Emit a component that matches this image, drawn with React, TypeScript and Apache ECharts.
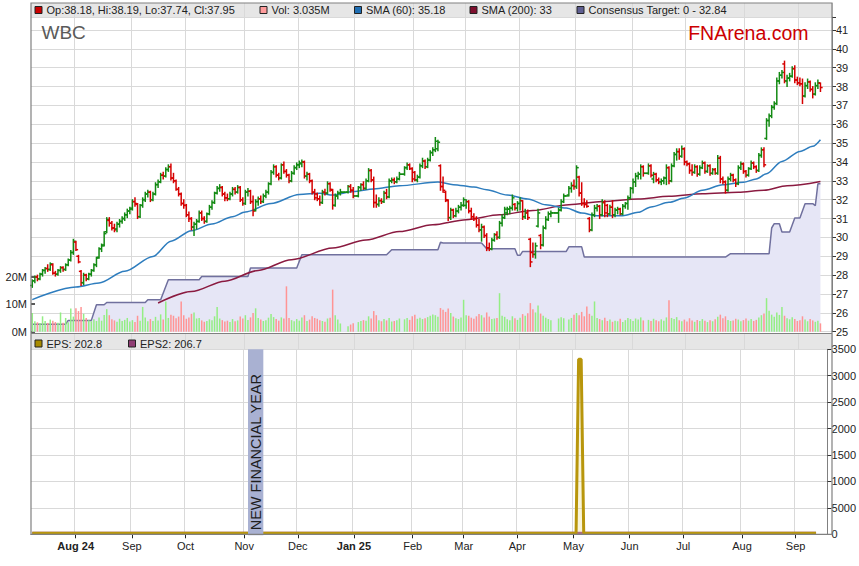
import React, { useEffect, useRef } from "react";
import * as echarts from "echarts";

// ---------- data ----------
const FIRST_DAY = "2024-07-09";
const SLOT_COUNT = 312; // weekdays shown on the axis (last 4 are empty)

const monthTickLabels = ["Aug 24", "Sep", "Oct", "Nov", "Dec", "Jan 25", "Feb", "Mar", "Apr", "May", "Jun", "Jul", "Aug", "Sep"];
const boldTickLabels = ["Aug 24", "Jan 25"];

// daily [open, high, low, close]
const ohlc: number[][] = [
  [27.45,27.75,27.35,27.70],[27.70,27.95,27.60,27.90],[27.90,28.00,27.70,27.80],[27.80,28.10,27.75,28.05],[28.05,28.30,27.95,28.25],[28.25,28.40,28.10,28.35],[28.35,28.55,28.20,28.30],[28.30,28.65,28.25,28.60],[28.55,28.60,28.05,28.10],[28.10,28.20,27.95,28.05],
  [28.05,28.30,28.00,28.25],[28.25,28.45,28.15,28.40],[28.40,28.45,28.20,28.30],[28.30,28.60,28.25,28.55],[28.55,28.85,28.50,28.80],[28.80,29.30,28.75,29.20],[29.20,29.90,29.10,29.80],[29.75,29.80,29.30,29.35],[29.00,29.05,28.65,28.70],[28.20,28.25,27.45,27.60],
  [27.60,28.10,27.50,28.00],[28.00,28.05,27.70,27.80],[27.80,28.10,27.75,28.05],[28.05,28.30,27.95,28.25],[28.25,28.60,28.20,28.55],[28.55,28.95,28.45,28.90],[28.95,29.45,28.90,29.40],[29.40,29.65,29.25,29.55],[29.60,30.30,29.55,30.20],[30.30,31.05,30.25,30.95],
  [30.90,31.05,30.60,30.75],[30.75,30.85,30.40,30.50],[30.50,30.70,30.30,30.40],[30.45,30.80,30.30,30.70],[30.70,30.95,30.55,30.85],[30.85,31.10,30.75,31.00],[31.00,31.30,30.90,31.20],[31.20,31.50,31.05,31.40],[31.40,31.60,31.25,31.50],[31.55,32.00,31.45,31.90],
  [31.90,32.10,31.65,31.80],[31.75,31.80,31.00,31.10],[31.10,31.75,31.05,31.70],[31.70,32.10,31.60,32.00],[32.00,32.40,31.90,32.30],[32.30,32.50,32.15,32.40],[32.40,32.45,31.90,32.00],[32.00,32.40,31.95,32.30],[32.30,32.90,32.25,32.80],[32.80,33.05,32.65,32.95],
  [32.95,33.40,32.90,33.30],[33.30,33.45,33.10,33.25],[33.25,33.70,33.20,33.60],[33.60,33.85,33.50,33.75],[33.75,33.90,33.05,33.15],[33.15,33.40,32.90,33.00],[33.00,33.05,32.50,32.55],[32.55,32.65,32.20,32.30],[32.30,32.35,31.70,31.80],[31.80,32.00,31.55,31.70],
  [31.70,31.75,31.10,31.20],[31.20,31.35,30.85,31.00],[31.00,31.05,30.40,30.55],[30.55,30.80,30.10,30.70],[30.70,30.95,30.45,30.85],[30.85,31.40,30.80,31.30],[31.30,31.40,30.90,31.00],[31.00,31.10,30.75,30.85],[30.85,31.30,30.80,31.25],[31.25,31.70,31.20,31.60],
  [31.60,31.95,31.50,31.85],[31.85,32.40,31.80,32.35],[32.35,32.70,32.30,32.60],[32.60,32.80,32.45,32.65],[32.65,32.70,32.20,32.30],[32.30,32.40,31.95,32.10],[32.10,32.30,31.95,32.05],[32.05,32.40,32.00,32.30],[32.30,32.65,32.20,32.55],[32.55,32.65,32.30,32.40],
  [32.40,32.75,32.35,32.65],[32.65,32.70,31.90,32.00],[32.00,32.10,31.70,31.80],[31.80,32.50,31.75,32.40],[32.40,32.60,32.20,32.45],[32.45,32.50,31.80,31.90],[31.90,32.20,31.15,31.40],[31.45,32.00,31.40,31.90],[31.90,32.15,31.70,32.05],[32.05,32.20,31.80,31.90],
  [31.90,32.30,31.85,32.20],[32.20,32.50,32.10,32.40],[32.40,32.90,32.30,32.85],[32.85,33.55,32.80,33.45],[33.45,33.85,33.35,33.75],[33.75,33.80,33.20,33.30],[33.30,33.40,33.05,33.15],[33.15,33.90,33.10,33.85],[33.85,34.00,33.40,33.50],[33.50,33.60,33.20,33.30],
  [33.30,33.35,32.90,33.00],[33.00,33.50,32.95,33.40],[33.40,33.80,33.35,33.70],[33.70,33.95,33.60,33.85],[33.85,34.05,33.70,33.95],[33.90,34.10,33.75,34.00],[34.00,34.05,33.15,33.25],[33.25,33.45,33.05,33.35],[33.35,33.40,32.90,33.00],[33.00,33.05,32.30,32.40],
  [32.40,32.55,32.00,32.10],[32.30,32.35,31.95,32.05],[32.05,32.20,31.70,31.85],[31.85,32.50,31.80,32.40],[32.40,32.55,32.25,32.35],[32.35,32.95,32.30,32.85],[32.85,32.90,32.45,32.55],[32.50,32.55,31.50,31.70],[31.70,32.30,31.65,32.20],[32.20,32.45,32.05,32.35],
  [32.35,32.55,32.25,32.40],[32.40,32.40,32.40,32.40],[32.40,32.40,32.40,32.40],[32.40,32.75,32.35,32.70],[32.70,32.80,32.40,32.50],[32.50,32.65,32.10,32.20],[32.20,32.20,32.20,32.20],[32.20,32.70,32.15,32.65],[32.65,32.85,32.50,32.80],[32.80,32.95,32.55,32.60],
  [32.60,33.10,32.55,33.00],[33.00,33.65,32.95,33.55],[33.55,33.60,32.95,33.05],[33.05,33.20,31.60,31.85],[31.85,32.25,31.60,31.75],[31.75,32.10,31.65,31.95],[31.95,32.05,31.80,31.90],[31.90,32.45,31.85,32.35],[32.35,32.55,32.05,32.15],[32.15,33.10,32.10,33.00],
  [33.00,33.15,32.90,33.05],[33.05,33.15,32.85,32.95],[32.95,33.20,32.90,33.10],[33.10,33.45,33.05,33.35],[33.35,33.35,33.35,33.35],[33.35,33.75,33.30,33.70],[33.70,33.95,33.60,33.85],[33.85,33.90,33.60,33.65],[33.65,33.70,32.95,33.10],[33.45,33.50,33.00,33.05],
  [33.05,33.30,32.95,33.20],[33.20,33.90,33.15,33.80],[33.80,34.20,33.70,34.05],[34.05,34.10,33.65,33.75],[33.75,34.20,33.70,34.10],[34.10,34.60,34.05,34.50],[34.50,34.75,34.35,34.65],[34.65,35.30,34.55,35.10],[34.70,35.15,34.60,35.05],[33.80,33.85,32.50,32.70],
  [32.70,33.20,32.40,32.50],[32.40,32.45,31.90,32.00],[31.95,32.00,30.90,31.05],[31.05,31.55,30.95,31.45],[31.45,31.50,31.05,31.15],[31.15,31.55,31.10,31.40],[31.40,31.70,31.30,31.60],[31.60,31.85,31.45,31.70],[31.70,32.10,31.65,32.00],[31.70,32.00,31.55,31.90],
  [31.90,31.95,31.30,31.40],[31.40,31.55,30.95,31.10],[31.10,31.25,30.90,31.00],[31.00,31.10,30.55,30.65],[30.65,30.95,30.30,30.40],[30.40,30.70,29.80,30.55],[30.55,30.60,30.00,30.10],[30.10,30.20,29.30,29.45],[29.45,29.70,29.30,29.40],[29.40,29.95,29.35,29.85],
  [29.85,30.20,29.80,30.15],[30.15,30.30,29.90,30.00],[30.00,30.85,29.95,30.75],[30.75,31.20,30.60,31.05],[31.05,31.60,31.00,31.50],[31.30,31.60,31.20,31.50],[31.50,31.65,31.25,31.55],[31.55,32.25,31.45,32.10],[31.75,31.80,31.45,31.55],[31.55,31.90,31.40,31.80],
  [31.80,32.10,31.45,31.95],[31.95,31.95,30.95,31.10],[31.10,31.50,31.00,31.30],[31.30,31.45,30.95,31.05],[29.90,29.95,28.45,28.70],[29.20,29.70,28.95,29.10],[29.10,29.70,28.90,29.55],[30.60,31.50,30.55,31.30],[30.10,30.15,29.40,29.60],[29.60,30.60,29.55,30.50],
  [30.50,31.10,30.45,30.95],[30.95,31.35,30.90,31.25],[31.25,31.40,31.10,31.30],[31.30,31.30,31.30,31.30],[31.30,31.30,31.30,31.30],[31.30,31.55,30.80,31.45],[31.45,32.00,31.40,31.90],[31.90,32.30,31.85,32.20],[32.20,32.20,32.20,32.20],[32.25,32.70,32.20,32.60],
  [32.60,32.90,32.40,32.75],[32.75,33.05,32.55,32.70],[32.70,33.80,32.60,33.70],[33.20,33.25,32.20,32.35],[32.35,32.90,31.70,31.80],[31.80,32.05,31.60,31.75],[31.75,31.95,31.60,31.65],[31.00,31.05,30.30,30.40],[30.40,31.30,30.35,31.20],[31.20,31.70,31.10,31.55],
  [31.55,31.75,31.40,31.65],[31.65,31.70,31.00,31.20],[31.20,32.00,31.15,31.85],[31.85,31.95,31.10,31.30],[31.70,31.75,31.10,31.25],[31.25,31.70,31.20,31.60],[31.60,31.95,31.05,31.20],[31.20,31.55,31.10,31.45],[31.45,31.60,31.25,31.50],[31.50,31.55,31.20,31.25],
  [31.25,31.75,31.20,31.65],[31.65,31.85,31.55,31.80],[31.80,32.20,31.50,32.10],[32.10,32.65,32.05,32.60],[32.60,33.10,32.35,32.95],[32.95,33.40,32.70,33.25],[33.25,33.45,33.10,33.35],[33.35,33.85,33.10,33.75],[33.75,33.80,33.25,33.40],[33.40,33.40,33.40,33.40],
  [33.40,33.90,33.35,33.80],[33.80,33.85,33.20,33.30],[33.10,33.45,32.90,33.35],[33.35,33.40,32.95,33.05],[33.05,33.15,32.85,32.95],[32.95,33.10,32.80,33.00],[33.00,33.20,32.85,33.15],[33.15,33.85,32.80,33.70],[33.70,33.75,32.85,33.00],[33.00,33.90,32.95,33.80],
  [33.80,34.50,33.75,34.40],[34.40,34.70,34.10,34.55],[34.55,34.70,34.15,34.30],[34.30,34.85,34.25,34.70],[34.70,34.75,33.85,34.00],[34.00,34.05,33.80,33.90],[33.90,33.95,33.40,33.55],[33.55,33.85,33.30,33.45],[33.45,33.85,33.40,33.75],[33.75,33.80,33.25,33.35],
  [33.35,33.80,33.30,33.70],[33.70,34.05,33.65,33.95],[33.95,34.00,33.40,33.50],[33.50,33.85,33.45,33.80],[33.80,33.85,33.30,33.40],[33.40,33.65,33.35,33.60],[33.60,33.65,33.35,33.40],[33.40,34.35,33.35,34.20],[34.20,34.30,32.90,33.10],[33.10,33.20,32.85,32.95],
  [32.95,33.00,32.35,32.50],[32.50,33.20,32.45,33.10],[33.10,33.40,33.00,33.30],[33.30,33.35,32.95,33.05],[33.05,33.10,32.70,32.85],[32.85,33.80,32.80,33.70],[33.70,34.00,33.60,33.90],[33.90,33.95,33.40,33.50],[33.50,33.55,33.20,33.30],[33.30,33.70,33.25,33.65],
  [33.65,34.05,33.60,33.95],[33.95,34.00,33.65,33.75],[33.75,33.80,33.45,33.55],[33.55,34.45,33.50,34.35],[34.35,34.75,34.25,34.65],[34.65,34.75,33.75,33.85],[35.25,36.30,35.20,36.20],[36.20,36.55,35.90,36.45],[36.45,37.00,36.35,36.90],[36.90,37.20,36.80,37.10],
  [37.10,38.45,37.05,38.30],[38.30,38.75,38.15,38.60],[38.60,38.85,38.45,38.75],[39.20,39.35,38.20,38.30],[38.30,38.60,38.00,38.45],[38.45,38.70,38.30,38.55],[38.55,39.05,38.50,38.95],[38.95,39.10,38.20,38.35],[38.35,38.50,38.10,38.20],[38.20,38.45,38.05,38.15],
  [38.15,38.40,37.10,37.50],[37.50,38.20,37.45,38.05],[38.05,38.40,37.90,38.25],[38.25,38.30,37.75,37.85],[37.85,38.00,37.40,37.60],[37.60,38.20,37.55,38.05],[38.05,38.35,37.90,38.20],[38.18,38.19,37.74,37.95],
];

// daily volume, millions
const volumeM: number[] = [
  6.8,3.8,3.4,3.2,5.6,3.9,3.2,4.4,4.0,3.5, 3.3,7.0,3.3,5.0,3.4,8.4,5.5,8.5,7.5,9.0,
  6.5,5.0,4.2,3.8,4.5,3.9,5.2,4.0,6.1,8.2, 6.0,4.5,4.1,3.6,4.7,3.9,4.3,5.0,3.7,4.2,
  3.5,5.8,4.0,9.0,5.2,3.8,4.6,3.9,5.4,4.1, 6.3,4.4,11.0,5.0,6.2,5.8,4.9,5.5,11.0,6.0,
  4.7,5.2,6.5,7.0,4.8,5.0,4.1,3.6,3.9,4.5, 4.2,5.6,9.0,4.8,4.2,3.7,4.0,3.5,4.6,3.8,
  4.1,5.5,4.8,6.0,4.3,5.2,6.8,8.5,5.0,4.4, 3.9,4.2,5.1,6.4,5.3,4.6,4.0,5.2,4.8,16.5,
  5.0,4.2,3.8,4.6,4.0,5.2,6.0,3.9,4.4,5.6, 5.0,4.7,4.2,3.9,3.6,4.8,5.1,15.3,6.0,4.4,
  3.0,0,0,2.0,2.6,3.1,0,3.5,3.9,4.2, 4.0,5.6,4.8,7.5,6.0,4.2,3.8,4.6,4.1,5.0,
  3.7,3.9,4.2,4.8,0,4.5,5.0,4.3,5.6,6.2, 4.7,5.1,4.6,4.9,5.3,5.8,6.3,6.0,5.4,8.6,
  8.0,7.2,8.4,6.8,5.5,4.9,4.6,5.2,11.6,6.0, 5.8,5.1,4.7,5.6,6.4,6.0,5.2,7.0,5.5,4.6,
  4.8,5.0,14.0,5.8,5.4,4.5,4.2,5.6,4.9,4.3, 5.1,6.4,5.8,6.7,10.4,8.2,7.0,9.5,6.6,5.8,
  5.1,4.6,4.2,0,0,4.8,5.3,4.9,0,4.4, 5.0,6.2,6.8,6.0,7.2,5.6,9.2,6.5,5.8,11.0,
  5.0,4.6,4.2,5.1,3.9,4.4,3.6,4.0,3.8,4.7, 3.5,4.2,5.0,4.6,3.9,4.8,4.4,5.2,4.1,0,
  4.3,3.9,4.7,4.2,3.8,4.5,4.0,5.2,11.4,5.0, 4.6,5.3,4.2,3.8,4.4,3.7,4.9,4.1,3.6,4.3,
  3.9,4.6,4.0,3.5,4.2,3.8,4.5,5.4,6.2,4.9, 5.6,4.3,3.9,4.1,4.7,4.4,3.8,4.2,4.8,4.0,
  4.6,3.9,4.3,5.2,6.0,6.6,12.2,7.6,6.2,5.4, 7.0,6.1,9.0,5.8,4.9,4.5,5.3,4.6,3.9,4.2,
  5.6,4.4,3.8,4.6,4.1,3.6,4.0,3.035,
];

// [day index, value] points
const sma60: number[][] = [
  [0,26.70],[17,27.37],[26,27.58],[36,28.20],[47,28.99],[54,29.80],[62,30.36],[70,30.71],[78,31.10],[83,31.35],
  [93,31.80],[104,32.28],[112,32.34],[117,32.25],[125,32.44],[133,32.57],[143,32.74],[158,32.94],[164,32.80],[172,32.67],
  [177,32.53],[185,32.25],[193,32.04],[200,31.73],[208,31.56],[214,31.29],[220,31.15],[230,31.15],[236,31.33],[241,31.62],
  [248,31.86],[254,32.09],[261,32.50],[269,32.79],[277,32.92],[282,33.10],[286,33.38],[292,34.03],[299,34.56],[304,34.83],[307,35.18],
];
const sma200: number[][] = [
  [49,26.52],[62,27.13],[75,27.68],[88,28.25],[101,28.82],[117,29.44],[130,29.86],[143,30.31],[156,30.67],[169,30.94],
  [182,31.20],[195,31.43],[209,31.73],[222,31.91],[236,32.04],[248,32.18],[261,32.32],[275,32.40],[285,32.50],[294,32.74],[307,32.97],
];
const consensus: number[][] = [
  [0,25.40],[13,25.40],[14,25.60],[23,25.60],[25,26.43],[28,26.43],[29,26.55],[44,26.55],[45,26.70],[50,26.70],
  [53,27.76],[65,27.76],[66,27.93],[84,27.93],[85,28.38],[103,28.38],[105,29.08],[138,29.08],[140,29.35],[158,29.35],
  [159,29.75],[160,29.70],[175,29.70],[177,29.40],[188,29.40],[189,29.05],[190,29.05],[191,29.26],[208,29.26],[209,29.50],
  [214,29.50],[215,28.96],[270,28.96],[272,29.14],[287,29.14],[288,30.50],[289,30.73],[291,30.73],[292,30.29],[295,30.29],
  [297,31.03],[299,31.03],[301,31.79],[304,31.79],[305,31.68],[306,32.84],[307,32.84],
];
const eps: number[][] = [[0,20],[213,20],[214,3310],[215,3310],[216,20],[307,20]];
const eps2: number[][] = [[0,20],[307,20]];
const newFinancialYear = [85, 90]; // first and last day index of the band

// ---------- helpers ----------
function buildDays(): string[] {
  const out: string[] = [];
  const d = new Date(FIRST_DAY + "T00:00:00Z");
  while (out.length < SLOT_COUNT) {
    const wd = d.getUTCDay();
    if (wd !== 0 && wd !== 6) out.push(d.toISOString().slice(0, 10));
    d.setUTCDate(d.getUTCDate() + 1);
  }
  return out;
}

const FONT = "Arial, 'Liberation Sans', Helvetica, sans-serif";
const UP = "#138A13";
const DOWN = "#D60000";
const GRIDLINE = "#D9D9D9";
const FRAME = "#808080";

export default function App() {
  const ref = useRef<HTMLDivElement>(null);

  useEffect(() => {
    if (!ref.current) return;
    const chart = echarts.init(ref.current, undefined, { renderer: "svg" });

    const days = buildDays();
    const monthStarts: number[] = [];
    for (let i = 1; i < days.length; i++) {
      if (days[i].slice(0, 7) !== days[i - 1].slice(0, 7)) monthStarts.push(i);
    }
    const labelAt: Record<number, string> = {};
    monthStarts.forEach((idx, k) => {
      if (k < monthTickLabels.length) labelAt[idx] = monthTickLabels[k];
    });
    const isMonthStart = (index: number) => labelAt[index] !== undefined;

    const L = 31, R = 27;
    const grids = [
      { left: L, right: R, top: 3, height: 14, show: true, backgroundColor: "#E6E6E6", borderWidth: 0 },
      { left: L, right: R, top: 17, height: 314.7 },
      { left: L, right: R, top: 276.7, height: 55 },
      { left: L, right: R, top: 333.5, height: 15.8, show: true, backgroundColor: "#E6E6E6", borderWidth: 0 },
      { left: L, right: R, top: 349.3, height: 185 },
    ];

    const baseX = (gridIndex: number, splitShow = true) => ({
      type: "category",
      gridIndex,
      data: days,
      boundaryGap: true,
      axisLine: { show: false },
      axisTick: { show: false },
      axisLabel: { show: false },
      splitLine: { show: splitShow, interval: (i: number) => isMonthStart(i), lineStyle: { color: GRIDLINE, width: 1 } },
    });

    const xAxes: any[] = [
      baseX(0),
      baseX(1),
      { ...baseX(2, false), show: false },
      baseX(3),
      {
        ...baseX(4),
        axisLine: { show: true, lineStyle: { color: FRAME, width: 1 } },
        axisTick: { show: true, alignWithLabel: true, interval: (i: number) => isMonthStart(i), length: 4, lineStyle: { color: "#222" } },
        axisLabel: {
          show: true,
          interval: (i: number) => isMonthStart(i),
          margin: 6,
          color: "#222",
          fontSize: 11,
          fontFamily: FONT,
          formatter: (_v: string, i: number) => {
            const t = labelAt[i];
            if (!t) return "";
            return boldTickLabels.includes(t) ? `{b|${t}}` : t;
          },
          rich: { b: { fontWeight: "bold", fontSize: 11, fontFamily: FONT, color: "#222" } },
        },
      },
    ];

    const labelStyle = { color: "#222", fontSize: 11, fontFamily: FONT };
    const yAxes: any[] = [
      { type: "value", gridIndex: 0, show: false },
      {
        type: "value", gridIndex: 1, position: "right", min: 25, max: 41.69, interval: 1,
        axisLine: { show: true, lineStyle: { color: FRAME } },
        axisTick: { show: true, length: 4, lineStyle: { color: "#333" } },
        axisLabel: { ...labelStyle, margin: 4, formatter: (v: number) => (Number.isInteger(v) ? String(v) : "") },
        splitLine: { show: true, lineStyle: { color: GRIDLINE } },
      },
      {
        type: "value", gridIndex: 2, position: "left", min: 0, max: 20, interval: 10,
        axisLine: { show: false },
        axisTick: { show: true, inside: true, length: 4, lineStyle: { color: "#222", width: 1.5 } },
        axisLabel: { ...labelStyle, margin: 4, formatter: (v: number) => `${v}M` },
        splitLine: { show: false },
      },
      { type: "value", gridIndex: 3, show: false },
      {
        type: "value", gridIndex: 4, position: "right", min: 0, max: 3500, interval: 500,
        axisLine: { show: true, lineStyle: { color: FRAME } },
        axisTick: { show: true, length: 4, lineStyle: { color: "#333" } },
        axisLabel: { ...labelStyle, margin: 4, formatter: (v: number) => (v === 500 ? "5000" : String(v)) },
        splitLine: { show: true, lineStyle: { color: GRIDLINE } },
      },
    ];

    const series: any[] = [
      {
        name: "Consensus Target", type: "line", xAxisIndex: 1, yAxisIndex: 1, z: 1,
        data: consensus, showSymbol: false, silent: true,
        lineStyle: { color: "#70709E", width: 1.5 },
        areaStyle: { color: "#E6E6F6", opacity: 1, origin: "start" },
      },
      {
        name: "Vol", type: "bar", xAxisIndex: 2, yAxisIndex: 2, barWidth: 1.5, silent: true, z: 3,
        data: volumeM.map((v, i) => ({
          value: v,
          itemStyle: { color: ohlc[i][3] >= ohlc[i][0] ? "#94EE84" : "#FF9494" },
        })),
      },
      {
        name: "SMA (200)", type: "line", xAxisIndex: 1, yAxisIndex: 1, data: sma200, z: 4,
        showSymbol: false, smooth: 0.3, smoothMonotone: "x", silent: true,
        lineStyle: { color: "#8A1A40", width: 1.5 },
      },
      {
        name: "SMA (60)", type: "line", xAxisIndex: 1, yAxisIndex: 1, data: sma60, z: 4,
        showSymbol: false, smooth: 0.3, smoothMonotone: "x", silent: true,
        lineStyle: { color: "#2E7DBE", width: 1.5 },
      },
      {
        name: "OHLC", type: "custom", xAxisIndex: 1, yAxisIndex: 1, z: 5,
        data: ohlc.map((r, i) => [i, r[0], r[1], r[2], r[3]]),
        encode: { x: 0, y: [1, 2, 3, 4] },
        renderItem: (_p: any, api: any) => {
          const i = api.value(0);
          const o = api.value(1), h = api.value(2), l = api.value(3), c = api.value(4);
          const pH = api.coord([i, h]);
          const pL = api.coord([i, l]);
          const pO = api.coord([i, o]);
          const pC = api.coord([i, c]);
          const x = pH[0];
          const st = { stroke: c >= o ? UP : DOWN, lineWidth: 1.5 };
          return {
            type: "group",
            children: [
              { type: "line", shape: { x1: x, y1: pH[1] - 0.5, x2: x, y2: pL[1] + 0.5 }, style: st },
              { type: "line", shape: { x1: x - 2.2, y1: pO[1], x2: x, y2: pO[1] }, style: st },
              { type: "line", shape: { x1: x, y1: pC[1], x2: x + 2.2, y2: pC[1] }, style: st },
            ],
          };
        },
      },
      {
        name: "EPS2", type: "line", xAxisIndex: 4, yAxisIndex: 4, data: eps2, z: 3,
        showSymbol: false, silent: true, clip: false,
        lineStyle: { color: "#9B4A8E", width: 3 },
      },
      {
        name: "EPS", type: "line", xAxisIndex: 4, yAxisIndex: 4, data: eps, z: 4,
        showSymbol: false, silent: true, clip: false,
        lineStyle: { color: "#B8960C", width: 3 },
        areaStyle: { color: "rgba(232,208,100,0.35)", origin: "start" },
      },
      {
        name: "New financial year", type: "custom", xAxisIndex: 4, yAxisIndex: 4, z: 6,
        data: [[newFinancialYear[0], newFinancialYear[1], 3500]],
        encode: { x: [0, 1], y: 2 },
        renderItem: (_p: any, api: any) => {
          const a = api.value(0), b = api.value(1), top = api.value(2);
          const pA = api.coord([a, top]);
          const pB = api.coord([b, 0]);
          const half = api.size([1, 0])[0] / 2;
          const x0 = pA[0] - half, x1 = pB[0] + half;
          return {
            type: "group",
            children: [
              { type: "rect", shape: { x: x0, y: pA[1], width: x1 - x0, height: pB[1] - pA[1] + 1 }, style: { fill: "#A9B1D2" } },
              {
                type: "text", x: (x0 + x1) / 2, y: pB[1] - 4, rotation: Math.PI / 2,
                style: { text: "NEW FINANCIAL YEAR", textAlign: "left", textVerticalAlign: "middle", fill: "#1E1E1E", font: `14.5px ${FONT}` },
              },
            ],
          };
        },
      },
    ];

    const legendItem = (sx: number, sy: number, color: string, text: string) => [
      { type: "rect", shape: { x: sx, y: sy, width: 7, height: 7 }, style: { fill: color, stroke: "#222", lineWidth: 1 }, z: 100 },
      { type: "text", x: sx + 11.5, y: sy + 3.8, style: { text, fill: "#222", font: `11px ${FONT}`, textAlign: "left", textVerticalAlign: "middle" }, z: 100 },
    ];

    const graphic: any[] = [
      ...legendItem(35, 6.5, "#CC0000", "Op:38.18, Hi:38.19, Lo:37.74, Cl:37.95"),
      ...legendItem(260, 6.5, "#FF9C9C", "Vol: 3.035M"),
      ...legendItem(354.5, 6.5, "#1F6EB3", "SMA (60): 35.18"),
      ...legendItem(470, 6.5, "#7E0F2E", "SMA (200): 33"),
      ...legendItem(577, 6.5, "#5F5F92", "Consensus Target: 0 - 32.84"),
      ...legendItem(35, 340, "#A88B00", "EPS: 202.8"),
      ...legendItem(128.5, 340, "#8F3D74", "EPS2: 206.7"),
      { type: "text", x: 41.5, y: 32.5, style: { text: "WBC", fill: "#5A5A5A", font: `19px ${FONT}`, textAlign: "left", textVerticalAlign: "middle" }, z: 100 },
      { type: "text", x: 808.5, y: 33, style: { text: "FNArena.com", fill: "#CC0000", font: `19.5px ${FONT}`, textAlign: "right", textVerticalAlign: "middle" }, z: 100 },
      { type: "rect", shape: { x: 31, y: 3, width: 801, height: 531.3 }, style: { fill: "none", stroke: FRAME, lineWidth: 1.2 }, z: 110, silent: true },
      { type: "line", shape: { x1: 31, y1: 333.5, x2: 832, y2: 333.5 }, style: { stroke: FRAME, lineWidth: 1.2 }, z: 110, silent: true },
    ];

    chart.setOption({
      animation: false,
      backgroundColor: "#ffffff",
      textStyle: { fontFamily: FONT },
      grid: grids,
      xAxis: xAxes,
      yAxis: yAxes,
      series,
      graphic,
    });

    return () => chart.dispose();
  }, []);

  return (
    <div
      ref={ref}
      style={{ position: "fixed", left: 0, top: 0, width: 859, height: 566, background: "#fff" }}
    />
  );
}
